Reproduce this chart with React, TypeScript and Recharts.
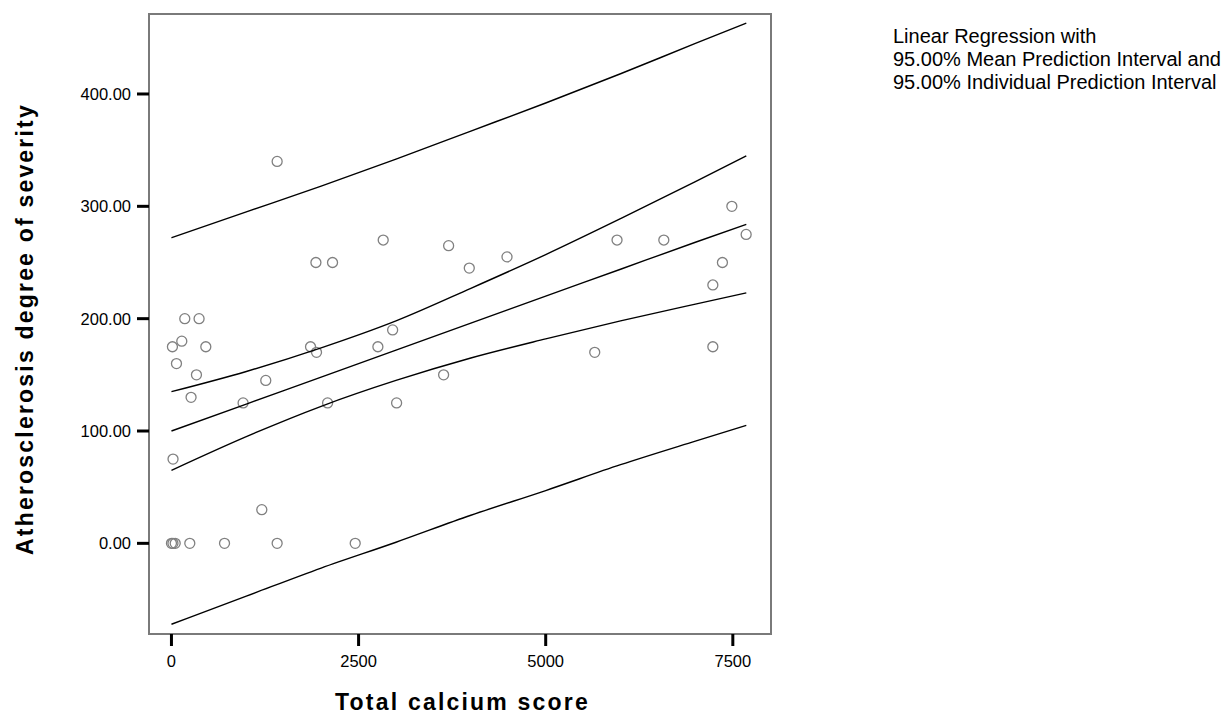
import React from 'react';
import { ScatterChart, Scatter, XAxis, YAxis, ReferenceArea, Label } from 'recharts';

// Observed points: total calcium score (x) and atherosclerosis severity (y)
const calciumScores = [
  0, 20, 50, 245, 709, 1412, 2455, 1207, 21, 13, 67, 138, 178, 369, 459, 334, 262, 957, 1260,
  1858, 1938, 2086, 1412, 1930, 2152, 2829, 2758, 2955, 3008, 3636, 3703, 3979, 4483, 5655,
  5953, 6578, 7233, 7233, 7361, 7487, 7678,
];
const severityScores = [
  0, 0, 0, 0, 0, 0, 0, 30, 75, 175, 160, 180, 200, 200, 175, 150, 130, 125, 145,
  175, 170, 125, 340, 250, 250, 270, 175, 190, 125, 150, 265, 245, 255, 170,
  270, 270, 230, 175, 250, 300, 275,
];

// Regression line and interval curves
const lineCalcium = [0, 1000, 2000, 3000, 4000, 5000, 6000, 7000, 7680];
const fitLine = [100, 124, 148, 172, 196, 220, 244, 268, 284];
const meanUpper = [135, 153, 174, 198, 227, 257, 289, 322, 345];
const meanLower = [65, 95, 122, 145, 165, 182, 198, 213, 223];
const indivUpper = [272, 295, 318, 342, 367, 392, 418, 445, 463];
const indivLower = [-72, -47, -22, 1, 25, 47, 70, 91, 105];

const xTicks = [0, 2500, 5000, 7500];
const yTicks = [0, 100, 200, 300, 400];
const legendLines = [
  'Linear Regression with',
  '95.00% Mean Prediction Interval and',
  '95.00% Individual Prediction Interval',
];

const xDomain: [number, number] = [-300, 8010];
const yDomain: [number, number] = [-80.7, 471.2];

const FONT = '"Liberation Sans", Arial, sans-serif';

const points = calciumScores.map((x, i) => ({ x, y: severityScores[i] }));
const toSeries = (ys: number[]) => lineCalcium.map((x, i) => ({ x, y: ys[i] }));
const curves = [indivUpper, meanUpper, fitLine, meanLower, indivLower].map(toSeries);

const OpenCircle = (props: any) => (
  <circle cx={props.cx} cy={props.cy} r={5} fill="none" stroke="#808080" strokeWidth={1.3} />
);
const NoShape = () => <g />;

export default function App() {
  return (
    <div
      style={{
        position: 'absolute',
        left: 0,
        top: 0,
        width: 1223,
        height: 715,
        background: '#fff',
        overflow: 'hidden',
      }}
    >
      <ScatterChart
        width={1223}
        height={715}
        margin={{ top: 14, right: 452, bottom: 0, left: 0 }}
      >
        <XAxis
          type="number"
          dataKey="x"
          domain={xDomain}
          ticks={xTicks}
          allowDataOverflow
          height={81}
          axisLine={false}
          tickSize={12}
          tickMargin={9}
          tickLine={{ stroke: '#000', strokeWidth: 3 }}
          tick={{ fill: '#000', fontSize: 16.5, fontFamily: FONT }}
        >
          <Label
            content={() => (
              <text
                x={462.5}
                y={709.5}
                textAnchor="middle"
                fill="#000"
                style={{ fontFamily: FONT, fontSize: 23, fontWeight: 'bold', letterSpacing: '2.2px' }}
              >
                Total calcium score
              </text>
            )}
          />
        </XAxis>
        <YAxis
          type="number"
          dataKey="y"
          domain={yDomain}
          ticks={yTicks}
          allowDataOverflow
          width={149}
          axisLine={false}
          tickSize={12}
          tickMargin={6}
          tickLine={{ stroke: '#000', strokeWidth: 3 }}
          tick={{ fill: '#000', fontSize: 16.5, fontFamily: FONT }}
          tickFormatter={(v: number) => v.toFixed(2)}
        >
          <Label
            content={() => (
              <text
                x={33}
                y={329}
                transform="rotate(-90, 33, 329)"
                textAnchor="middle"
                fill="#000"
                style={{ fontFamily: FONT, fontSize: 23, fontWeight: 'bold', letterSpacing: '2.2px' }}
              >
                Atherosclerosis degree of severity
              </text>
            )}
          />
        </YAxis>
        <ReferenceArea
          x1={xDomain[0]}
          x2={xDomain[1]}
          y1={yDomain[0]}
          y2={yDomain[1]}
          fill="none"
          fillOpacity={0}
          stroke="#7a7a7a"
          strokeWidth={2}
          ifOverflow="visible"
        />
        <Scatter
          data={points}
          shape={OpenCircle}
          isAnimationActive={false}
        />
        {curves.map((d, i) => (
          <Scatter
            key={i}
            data={d}
            shape={NoShape}
            fill="none"
            stroke="#000"
            line={{ stroke: '#000', strokeWidth: 1.4, fill: 'none' }}
            lineType="joint"
            lineJointType="monotoneX"
            isAnimationActive={false}
          />
        ))}
      </ScatterChart>
      <div
        style={{
          position: 'absolute',
          left: 893,
          top: 25,
          fontFamily: FONT,
          fontSize: 20,
          lineHeight: '23px',
          color: '#000',
          whiteSpace: 'nowrap',
        }}
      >
        {legendLines.map((t) => (
          <div key={t}>{t}</div>
        ))}
      </div>
    </div>
  );
}
